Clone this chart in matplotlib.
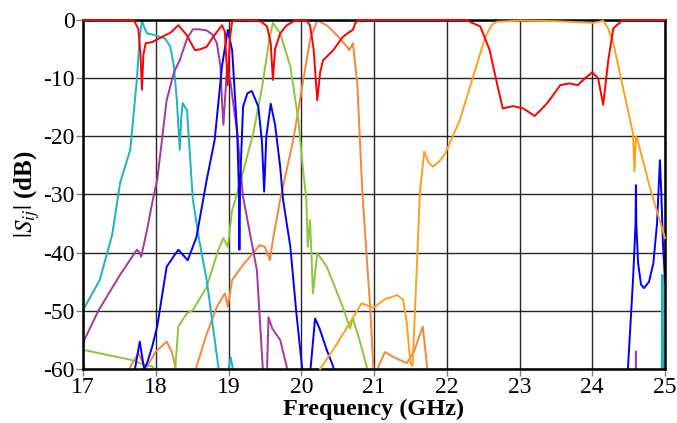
import numpy as np
import matplotlib
matplotlib.use("Agg")
from matplotlib import pyplot as plt

plt.rcParams['font.family'] = ['Liberation Serif', 'DejaVu Serif']
plt.rcParams['mathtext.fontset'] = 'stix'
plt.rcParams['axes.unicode_minus'] = False

# digitised |Sij| curves (GHz, dB); None splits a curve into pieces
red_f = [17.0, 17.7, 17.76, 17.79, 17.81, 17.83, 17.86, 17.95, 18.1, 18.2, 18.31, 18.42, 18.54, 18.62, 18.70,
         18.79, 18.91, 18.95, 18.99, 19.02, 19.05, 19.1, 19.3, 19.45, 19.53, 19.58, 19.61, 19.64, 19.71, 19.8,
         19.9, 19.98, 20.08, 20.12, 20.17, 20.22, 20.26, 20.30, 20.44, 20.57, 20.67, 20.71, 20.74, 20.77, 20.85,
         22.1, 22.28, 22.46, 22.59, 22.69, 22.77, 22.84, 22.91, 23.05, 23.21, 23.38, 23.56, 23.69, 23.80, 23.92,
         24.0, 24.08, 24.15, 24.22, 24.29, 24.42, 25.0]
red_db = [0, -0.1, -1.5, -6, -12, -6, -4, -3.8, -2.8, -2.2, -0.9, -2.5, -5.2, -5.0, -4.6,
          -2.9, -0.9, -2, -11.2, -3, -0.3, 0, 0, -0.3, -1.1, -4, -10.3, -5, -2.3, -0.9,
          -0.2, 0, -0.2, -0.9, -5, -13.8, -9, -6.9, -5.2, -2.9, -2.0, -1.7, -0.6, -0.1, 0,
          0, -0.1, -1.1, -5.2, -10.9, -15.2, -15.0, -14.8, -15.2, -16.5, -14.3, -11.2, -10.9, -11.2, -9.8,
          -9.0, -10.0, -14.6, -6.9, -1.4, 0, 0]

amber_f = [20.26, 20.5, 20.83, 20.99, 21.15, 21.32, 21.40, 21.45, 21.50, 21.53, 21.58, 21.63, 21.69, 21.75,
           21.81, 21.9, 21.98, 22.18, 22.36, 22.53, 22.62, 22.69, 23.0, 23.5, 23.85, 24.01, 24.10, 24.15,
           24.22, 24.29, 24.42, 24.56, 24.58, 24.60, 24.62, 24.79, 25.0]
amber_db = [-60, -55.5, -48.7, -49.5, -48, -47.3, -48.1, -52, -59, -59.5, -45, -29.8, -22.6, -24.5,
            -25.2, -24.3, -22.9, -17.2, -9.8, -2.9, -0.8, -0.3, -0.1, -0.2, -0.4, -0.5, -0.3, -0.1,
            -1.5, -4.0, -11.5, -19.5, -26, -20, -20.5, -28.7, -37.5]

cyan_f = [17.0, 17.23, 17.4, 17.51, 17.65, 17.74, 17.78, 17.81, 17.85, 17.88, 17.99, 18.13, 18.20, 18.25,
          18.29, 18.33, 18.35, 18.37, 18.43, 18.51, 18.60, 18.70, 18.86, 18.9, None,
          18.98, 19.0, 19.03, 19.06, 19.08, None,
          24.955, 24.962, 24.968, 24.975]
cyan_db = [-49.9, -44.7, -37, -28.0, -22.3, -10.3, -2.9, -0.1, -1.5, -2.3, -2.6, -3.2, -4.6, -8,
           -13.8, -22.3, -17, -14.3, -15.5, -30.9, -38, -44.7, -59.6, -65, None,
           -62, -60, -58, -60, -62, None,
           -62, -43.8, -44, -62]

purple_f = [17.0, 17.21, 17.5, 17.74, 17.78, 17.80, 17.88, 17.96, 18.02, 18.15, 18.25, 18.33, 18.43, 18.51,
            18.60, 18.70, 18.78, 18.84, 18.89, 18.91, 18.93, 18.96, 18.98, 19.02, 19.12, 19.2, 19.39, 19.47,
            19.5, 19.53, 19.55, 19.6, 19.71, 19.8, 19.82, None,
            24.598, 24.6, 24.602]
purple_db = [-55.5, -50, -44, -39.5, -40, -40.7, -36.1, -30.9, -27.5, -13.8, -9, -6.9, -3.2, -1.6,
             -1.6, -1.8, -2.5, -4.0, -8, -13.8, -18.0, -12, -8.0, -10, -19.5, -30.4, -43.0, -59.6,
             -63, -60, -51.1, -53, -55, -59.6, -63, None,
             -62, -57, -62]

blue_f = [17.69, 17.72, 17.78, 17.84, 17.88, 17.95, 18.02, 18.15, 18.31, 18.44, 18.56, 18.70, 18.81, 18.91,
          18.99, 19.05, 19.12, 19.14, 19.15, 19.16, 19.2, 19.26, 19.32, 19.41, 19.46, 19.49, 19.52, 19.58,
          19.64, 19.71, 19.75, 19.85, 19.93, 20.01, 20.03, None,
          20.1, 20.13, 20.19, 20.25, 20.35, 20.44, 20.46, None,
          24.47, 24.49, 24.56, 24.595, 24.60, 24.605, 24.63, 24.67, 24.71, 24.78, 24.84, 24.89, 24.93,
          24.95, 24.97, 25.0]
blue_db = [-62, -59.6, -55.3, -60, -59, -56.2, -52.7, -42.4, -39.5, -41.3, -37.3, -27.5, -20.6, -8.0,
           -1.7, -5.2, -19.5, -28, -39.5, -28, -14.9, -12.6, -12.2, -14.9, -21, -29.5, -20, -14.4,
           -18, -25.2, -30.9, -39.0, -50, -59.6, -62, None,
           -62, -59.6, -51.3, -53, -56.7, -59.6, -62, None,
           -62, -60, -44.7, -35, -28.4, -35, -41.8, -45.5, -46.1, -45, -41.8, -35, -24.1,
           -30, -38, -45]

green_f = [17.0, 17.3, 17.65, 17.85, 17.96, 18.0, None,
           18.25, 18.27, 18.31, 18.43, 18.51, 18.70, 18.86, 18.93, 18.99, 19.05, 19.16, 19.34, 19.47, 19.56,
           19.61, 19.71, 19.85, 19.96, 20.02, 20.07, 20.09, 20.12, 20.14, 20.16, 20.22, 20.35, 20.57, 20.67,
           20.71, 20.80, 20.90, 20.92]
green_db = [-56.7, -57.5, -58.4, -59.3, -59.6, -62, None,
            -62, -59.6, -52.7, -50.4, -49.9, -45.9, -39.5, -37.5, -39.0, -32.7, -28.0, -19.5, -10.9, -3.4,
            -0.5, -2.3, -8.0, -17.2, -25.2, -30.9, -39.0, -34.4, -40, -47.0, -40.1, -42.4, -49.3, -53.0,
            -51.3, -55, -59.6, -62]

coral_f = [16.99, 17.01, 17.03, None,
           17.62, 17.65, 17.76, 17.85, 17.88, 18.0, 18.15, 18.22, 18.27, 18.29, None,
           18.54, 18.56, 18.70, 18.84, 18.95, 18.99, 19.05, 19.2, 19.43, 19.5, 19.57, 19.61, 19.71, 19.89,
           20.02, 20.12, 20.22, 20.35, 20.49, 20.63, 20.66, 20.71, 20.77, 20.84, 20.95, 20.99, 21.0, None,
           21.04, 21.06, 21.15, 21.26, 21.45, 21.55, 21.67, 21.73, 21.74]
coral_db = [-62, -58.5, -62, None,
            -62, -59.6, -57.3, -59.6, -59.6, -57, -55.3, -57, -59.6, -62, None,
            -62, -59.6, -54, -49.3, -47.0, -49.3, -44.7, -42.1, -38.7, -39.0, -41.3, -37.8, -30.9, -20.6,
            -10.9, -3.4, -0.1, -0.9, -2.6, -4.6, -5.2, -4.0, -10.9, -29.8, -49.9, -59.6, -62, None,
            -62, -59.6, -57.1, -57.9, -59.0, -57, -52.7, -59.6, -62]


def arr(v):
    return np.array([np.nan if a is None else a for a in v], dtype=float)


fig = plt.figure(figsize=(6.77, 4.23), dpi=100)
ax = fig.add_axes([0.1226, 0.1277, 0.8597, 0.8250])

lw = 1.4
ax.plot(arr(coral_f), arr(coral_db), color="#F5873A", lw=lw)
ax.plot(arr(green_f), arr(green_db), color="#8CC63F", lw=lw)
ax.plot(arr(cyan_f), arr(cyan_db), color="#1AB4C0", lw=lw)
ax.plot(arr(purple_f), arr(purple_db), color="#A3389F", lw=lw)
ax.plot(arr(blue_f), arr(blue_db), color="#0000FF", lw=lw)
# these two sit on the 0 dB edge, so let them draw over the frame
ax.plot(arr(amber_f), arr(amber_db), color="#FFA01C", lw=lw, clip_on=False, zorder=5)
ax.plot(arr(red_f), arr(red_db), color="#FF0000", lw=lw, clip_on=False, zorder=6)

ax.set_xlim(17, 25)
ax.set_ylim(-60, 0)
ax.set_xticks(np.arange(17, 26, 1))
ax.set_yticks(np.arange(-60, 1, 10))
ax.grid(True, color="black", lw=1.0, alpha=0.85)
ax.set_axisbelow(True)
for s in ax.spines.values():
    s.set_linewidth(1.8)
ax.tick_params(direction="out", length=5, width=1.0, color="gray", labelsize=17, pad=1)

ax.set_xlabel("Frequency (GHz)", fontsize=17.5, fontweight="bold", labelpad=0)
ax.set_ylabel(r"$|S_{ij}|$ (dB)", fontsize=18, fontweight="bold", labelpad=1)

plt.savefig("out.png", dpi=100)
